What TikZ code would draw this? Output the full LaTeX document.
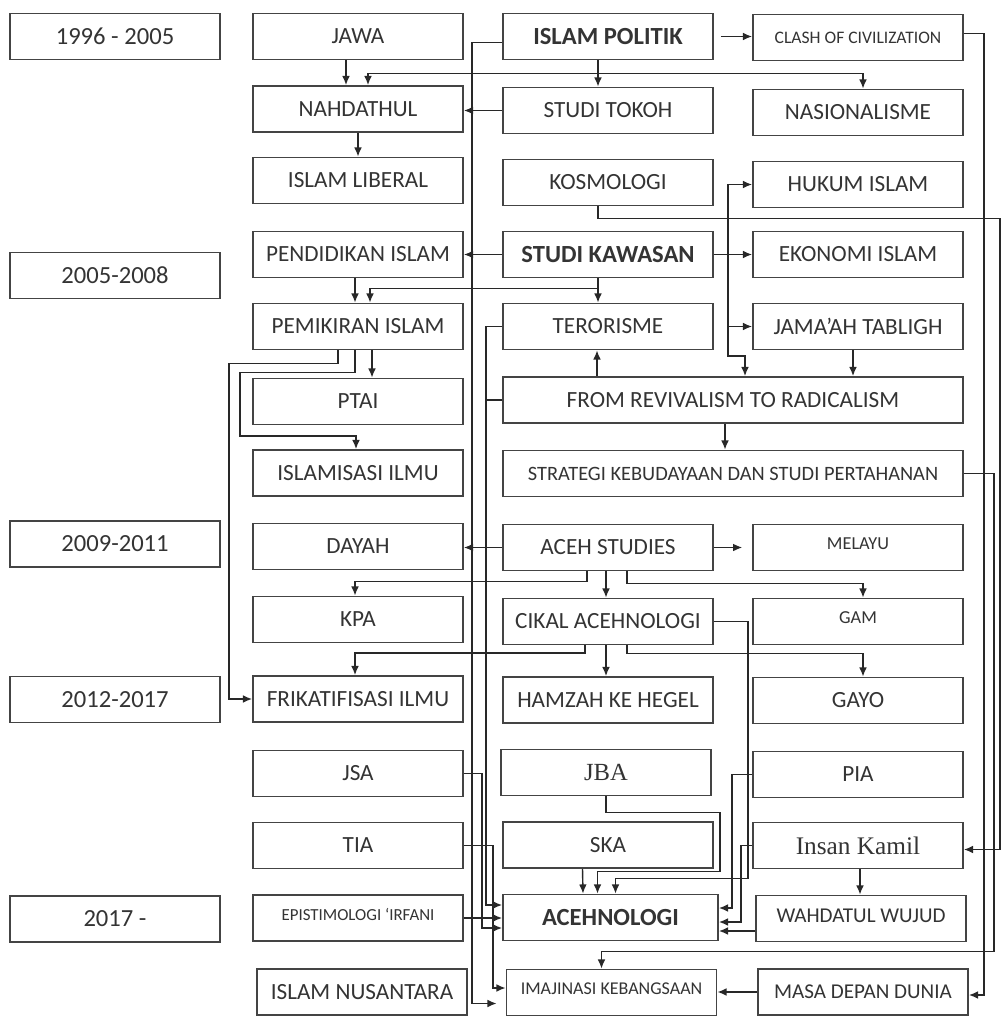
\documentclass[tikz,border=0pt]{standalone}
\usepackage{fontspec}
\setmainfont{Carlito}
\newfontfamily\serifname{Liberation Serif}
\definecolor{boxline}{RGB}{68, 68, 68}
\definecolor{wiregray}{RGB}{40, 40, 40}
\definecolor{labeltext}{RGB}{52, 52, 52}
\usetikzlibrary{arrows.meta, calc}

\tikzset{
  entry/.style={draw=boxline, line width=1.3pt, minimum width=5.25cm, minimum height=1.15cm,
    inner sep=0pt, text=labeltext, font=\fontsize{16.5}{18}\selectfont},
  yearbox/.style={entry, font=\fontsize{17.5}{19}\selectfont},
  wideentry/.style={entry, minimum width=11.5cm},
  boldentry/.style={entry, font=\fontsize{17.5}{19}\selectfont\bfseries},
  tinyentry/.style={entry, font=\fontsize{12.5}{14}\selectfont},
  wire/.style={draw=wiregray, line width=1pt},
  arr/.style={wire, -{Latex[length=6.5pt,width=5.5pt]}},
}

\begin{document}
\begin{tikzpicture}[x=0.025cm, y=-0.025cm]
    \fill[white] (0,0) rectangle (1003,1016);
    \useasboundingbox (0,0) rectangle (1003,1016);

    % Periods
    \foreach \nm/\yy/\txt in {yrA/36.5/1996 - 2005, yrB/275.5/2005-2008, yrC/544/2009-2011,
        yrD/699.5/2012-2017, yrE/919/2017 -} {
        \node[yearbox] (\nm) at (115,\yy) {\txt};
    }

    % First column of themes
    \foreach \nm/\yy/\txt in {jawa/36.5/JAWA, nahdathul/109/NAHDATHUL, liberal/180.5/ISLAM LIBERAL,
        pendidikan/254.5/PENDIDIKAN ISLAM, pemikiran/326.5/PEMIKIRAN ISLAM, ptai/401.5/PTAI,
        islamisasi/473/ISLAMISASI ILMU, dayah/546.5/DAYAH, kpa/619.5/KPA,
        frikat/699/FRIKATIFISASI ILMU, jsa/773.5/JSA, tia/845.5/TIA} {
        \node[entry] (\nm) at (358,\yy) {\txt};
    }
    \node[tinyentry, font=\fontsize{12}{14}\selectfont] (epist) at (358,918) {\raisebox{5pt}{EPISTIMOLOGI ‘IRFANI}};
    \node[entry] (nusantara) at (362,992) {ISLAM NUSANTARA};

    % Second column
    \node[boldentry] (politik) at (608,36.5) {ISLAM POLITIK};
    \node[boldentry] (kawasan) at (608,254.5) {STUDI KAWASAN};
    \foreach \nm/\yy/\txt in {tokoh/110.5/STUDI TOKOH, kosmologi/182.5/KOSMOLOGI,
        terorisme/326.5/TERORISME, acehst/547.5/ACEH STUDIES, cikal/621.5/CIKAL ACEHNOLOGI,
        hamzah/700/HAMZAH KE HEGEL, ska/845/SKA} {
        \node[entry] (\nm) at (608,\yy) {\txt};
    }
    \node[wideentry] (revival) at (733,400) {FROM REVIVALISM TO RADICALISM};
    \node[wideentry, font=\fontsize{14.5}{16}\selectfont] (strategi) at (733,473.5)
        {STRATEGI KEBUDAYAAN DAN STUDI PERTAHANAN};
    \node[entry, font=\fontsize{17.5}{19}\serifname] (jba) at (606,772.5) {JBA};
    \node[boldentry, minimum width=5.375cm] (acehnologi) at (610.5,917.5) {ACEHNOLOGI};
    \node[tinyentry, font=\fontsize{12.8}{14}\selectfont] (imaj) at (611.5,992.5) {\raisebox{5pt}{IMAJINASI KEBANGSAAN}};

    % Third column
    \node[tinyentry] (clash) at (858,37.5) {CLASH OF CIVILIZATION};
    \foreach \nm/\yy/\txt in {nasional/112.5/NASIONALISME, hukum/184.5/HUKUM ISLAM,
        ekonomi/254.5/EKONOMI ISLAM, jamaah/326.5/JAMA’AH TABLIGH, gayo/700.5/GAYO, pia/774.5/PIA} {
        \node[entry] (\nm) at (858,\yy) {\txt};
    }
    \node[entry, font=\fontsize{13}{15}\selectfont] (melayu) at (858,547.5) {\raisebox{5pt}{MELAYU}};
    \node[entry, font=\fontsize{13}{15}\selectfont] (gam) at (858,621.5) {\raisebox{5pt}{GAM}};
    \node[entry, font=\fontsize{18}{20}\serifname] (insan) at (858,845.5) {Insan Kamil};
    \node[entry, font=\fontsize{15}{17}\selectfont] (wahdatul) at (861,918.5) {\raisebox{4pt}{WAHDATUL WUJUD}};
    \node[entry, font=\fontsize{15}{17}\selectfont] (masa) at (863,992) {MASA DEPAN DUNIA};

    % Islam politik and the top row
    \draw[arr, shorten <=5pt] (politik.east) -- (politik.east -| clash.west);
    \draw[arr] ($(politik.west)+(0,6)$) -- ++(-30,0) |- ($(imaj.west)+(-9,11)$);
    \draw[arr] ($(politik.south)+(-10,0)$) -- ($(tokoh.north)+(-10,0)$);
    \draw[arr] ($(politik.south)+(-10,13)$) -| ($(nahdathul.north)+(10,0)$);
    \draw[arr] ($(politik.south)+(-10,13)$) -| ($(nasional.north)+(5,0)$);
    \draw[arr] ($(jawa.south)+(-12,0)$) -- ($(nahdathul.north)+(-12,0)$);
    \draw[arr] (tokoh.west) -- (tokoh.west -| nahdathul.east);
    \draw[arr] (nahdathul.south) -- (liberal.north);
    \draw[arr] ($(clash.east)+(0,-4)$) -- ++(20,0) |- ($(masa.east)+(0,3)$);
    \draw[arr] ($(kosmologi.south)+(-10,0)$) |- ($(kosmologi.south)+(392,12)$) |- ($(insan.east)+(0,4)$);

    % Studi kawasan
    \draw[arr] (kawasan.west) -- (kawasan.west -| pendidikan.east);
    \draw[arr] (kawasan.east) -- (kawasan.east -| ekonomi.west);
    \draw[arr] ($(kawasan.east)+(14,0)$) |- (hukum.west);
    \draw[arr] ($(kawasan.east)+(14,0)$) |- (jamaah.west);
    \draw[arr] ($(kawasan.east)+(14,0)$) |- ($(revival.north)+(12,-20)$) -- ($(revival.north)+(12,0)$);
    \draw[arr] ($(pendidikan.south)+(-3,0)$) -- ($(pemikiran.north)+(-3,0)$);
    \draw[arr] ($(kawasan.south)+(-10,0)$) -- ($(terorisme.north)+(-10,0)$);
    \draw[arr] ($(kawasan.south)+(-10,10)$) -| ($(pemikiran.north)+(12,0)$);
    \draw[arr] ($(jamaah.south)+(-5,0)$) -- ($(revival.north)+(120,0)$);
    \draw[arr] ($(revival.north)+(-136,0)$) -- ($(terorisme.south)+(-11,0)$);
    \draw[arr] ($(revival.south)+(-8,0)$) -- ($(strategi.north)+(-8,0)$);
    \draw[arr] (terorisme.west) -- ++(-16,0) |- ($(acehnologi.west)+(0,-12.5)$);
    \draw[wire] (revival.west) -- ++(-16,0);
    \draw[arr] (strategi.east) -- ++(30,0) |- ($(imaj.north)+(-10,-17)$) -- ($(imaj.north)+(-10,0)$);

    % Pemikiran Islam
    \draw[arr] ($(pemikiran.south)+(14,0)$) -- ($(ptai.north)+(14,0)$);
    \draw[arr] ($(pemikiran.south)+(-3,0)$) |- ($(pemikiran.south)+(-118,22)$)
        |- ($(islamisasi.north)+(-2,-13)$) -- ($(islamisasi.north)+(-2,0)$);
    \draw[arr] ($(pemikiran.south)+(-20,0)$) |- ($(pemikiran.south)+(-129,13)$) |- (frikat.west);

    % Aceh studies and Cikal Acehnologi
    \draw[arr] (acehst.west) -- (acehst.west -| dayah.east);
    \draw[arr, shorten >=7pt] (acehst.east) -- (acehst.east -| melayu.west);
    \draw[arr] ($(acehst.south)+(-21,0)$) |- ($(kpa.north)+(-3,-14)$) -- ($(kpa.north)+(-3,0)$);
    \draw[arr] ($(acehst.south)+(-2,0)$) -- ($(cikal.north)+(-2,0)$);
    \draw[arr] ($(acehst.south)+(19,0)$) |- ($(gam.north)+(5,-14)$) -- ($(gam.north)+(5,0)$);
    \draw[arr] ($(cikal.south)+(-23,0)$) |- ($(frikat.north)+(-3,-22)$) -- ($(frikat.north)+(-3,0)$);
    \draw[arr] ($(cikal.south)+(-2,0)$) -- ($(hamzah.north)+(-2,0)$);
    \draw[arr] ($(cikal.south)+(19,0)$) |- ($(gayo.north)+(5,-23)$) -- ($(gayo.north)+(5,0)$);
    \draw[arr] (cikal.east) -- ++(34,0) |- ($(acehnologi.north)+(5,-15)$) -- ($(acehnologi.north)+(5,0)$);

    % Into Acehnologi and Imajinasi Kebangsaan
    \draw[arr] (jba.south) |- ($(jba.south)+(114,16)$) |- ($(acehnologi.north)+(-13,-22)$)
        -- ($(acehnologi.north)+(-13,0)$);
    \draw[arr] ($(ska.south)+(-25.5,0)$) -- ($(acehnologi.north)+(-27.5,0)$);
    \draw[arr] (pia.west) -- ++(-20,0) |- ($(acehnologi.east)+(0,-9.5)$);
    \draw[arr] (insan.west) -- ++(-11,0) |- ($(acehnologi.east)+(0,4.5)$);
    \draw[arr] ($(wahdatul.west)+(0,12.5)$) -- ($(acehnologi.east)+(0,13.5)$);
    \draw[arr] ($(insan.south)+(2,0)$) -- ($(wahdatul.north)+(-1,0)$);
    \draw[arr] (masa.west) -- (masa.west -| imaj.east);
    \draw[arr] (jsa.east) -- ++(18,0) |- ($(acehnologi.west)+(0,10.5)$);
    \draw[arr] (epist.east) -- (epist.east -| acehnologi.west);
    \draw[arr] (tia.east) -- ++(29,0) |- ($(imaj.west)+(0,-4.5)$);
\end{tikzpicture}
\end{document}
